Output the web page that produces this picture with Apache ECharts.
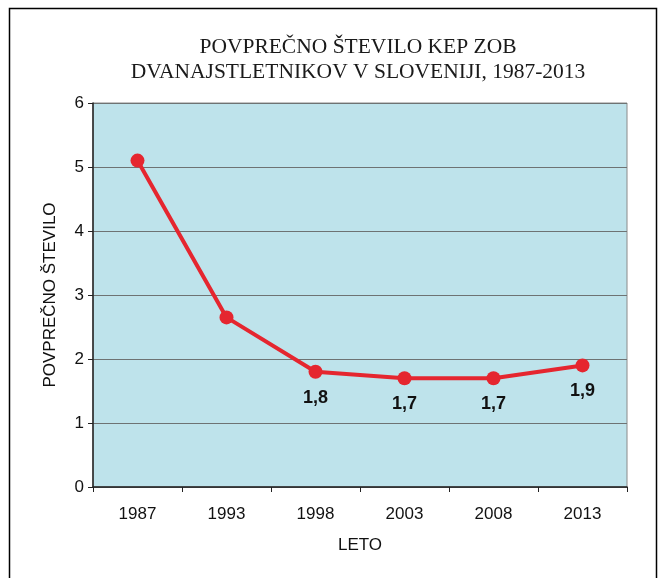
<!DOCTYPE html>
<html>
<head>
<meta charset="utf-8">
<script src="https://cdn.jsdelivr.net/npm/echarts@6/dist/echarts.min.js"></script>
<style>
  html, body { margin: 0; padding: 0; background: #ffffff; }
  #chart { width: 662px; height: 578px; }
</style>
</head>
<body>
<div id="chart"></div>
<script>
// Average DMFT of 12-year-olds in Slovenia by survey year
const years = ['1987', '1993', '1998', '2003', '2008', '2013'];
const meanDmft = [5.1, 2.65, 1.8, 1.7, 1.7, 1.9];
// Only the later surveys carry a value label
const labelledYears = ['1998', '2003', '2008', '2013'];
const yTicks = [0, 1, 2, 3, 4, 5, 6];

const chart = echarts.init(document.getElementById('chart'), null, { renderer: 'canvas' });

const seriesData = meanDmft.map((v, i) => ({
  value: v,
  label: { show: labelledYears.includes(years[i]) }
}));

chart.setOption({
  animation: false,
  backgroundColor: '#ffffff',
  title: {
    text: 'POVPREČNO ŠTEVILO KEP ZOB\nDVANAJSTLETNIKOV V SLOVENIJI, 1987-2013',
    left: 353,
    textAlign: 'center',
    top: 30,
    textStyle: {
      fontFamily: 'Liberation Serif',
      fontWeight: 'normal',
      fontSize: 21.5,
      lineHeight: 25,
      color: '#1a1a1a'
    }
  },
  graphic: [{
    type: 'rect',
    shape: { x: 9.5, y: 8.5, width: 647, height: 620 },
    style: { fill: 'none', stroke: '#000000', lineWidth: 1.5 },
    silent: true
  }],
  grid: {
    left: 93,
    right: 35,
    top: 103,
    bottom: 91,
    show: true,
    backgroundColor: '#bee3eb',
    borderColor: '#8a8a8a',
    borderWidth: 1
  },
  xAxis: {
    type: 'category',
    data: years,
    boundaryGap: true,
    name: 'LETO',
    nameLocation: 'middle',
    nameGap: 50,
    nameTextStyle: { fontFamily: 'Liberation Sans', fontSize: 17, color: '#111111' },
    axisLine: { lineStyle: { color: '#222222', width: 1.5 } },
    axisTick: { show: true, length: 5, alignWithLabel: false, lineStyle: { color: '#222222' } },
    axisLabel: { margin: 19, fontFamily: 'Liberation Sans', fontSize: 17, color: '#111111' },
    splitLine: { show: false }
  },
  yAxis: {
    type: 'value',
    min: yTicks[0],
    max: yTicks[yTicks.length - 1],
    interval: 1,
    name: 'POVPREČNO ŠTEVILO',
    nameLocation: 'middle',
    nameGap: 34,
    nameTextStyle: { fontFamily: 'Liberation Sans', fontSize: 17, color: '#111111' },
    axisLine: { show: true, lineStyle: { color: '#222222', width: 1.5 } },
    axisTick: { show: true, length: 5, lineStyle: { color: '#222222' } },
    axisLabel: { margin: 9, fontFamily: 'Liberation Sans', fontSize: 17, color: '#111111' },
    splitLine: { show: true, lineStyle: { color: '#6e7373', width: 1 } }
  },
  series: [{
    type: 'line',
    data: seriesData,
    symbol: 'circle',
    symbolSize: 14,
    lineStyle: { color: '#e5262f', width: 4 },
    itemStyle: { color: '#e5262f' },
    label: {
      position: 'bottom',
      distance: 10,
      fontFamily: 'Liberation Sans',
      fontWeight: 'bold',
      fontSize: 18,
      color: '#111111',
      formatter: p => p.value.toFixed(1).replace('.', ',')
    },
    z: 5
  }]
});
</script>
</body>
</html>
